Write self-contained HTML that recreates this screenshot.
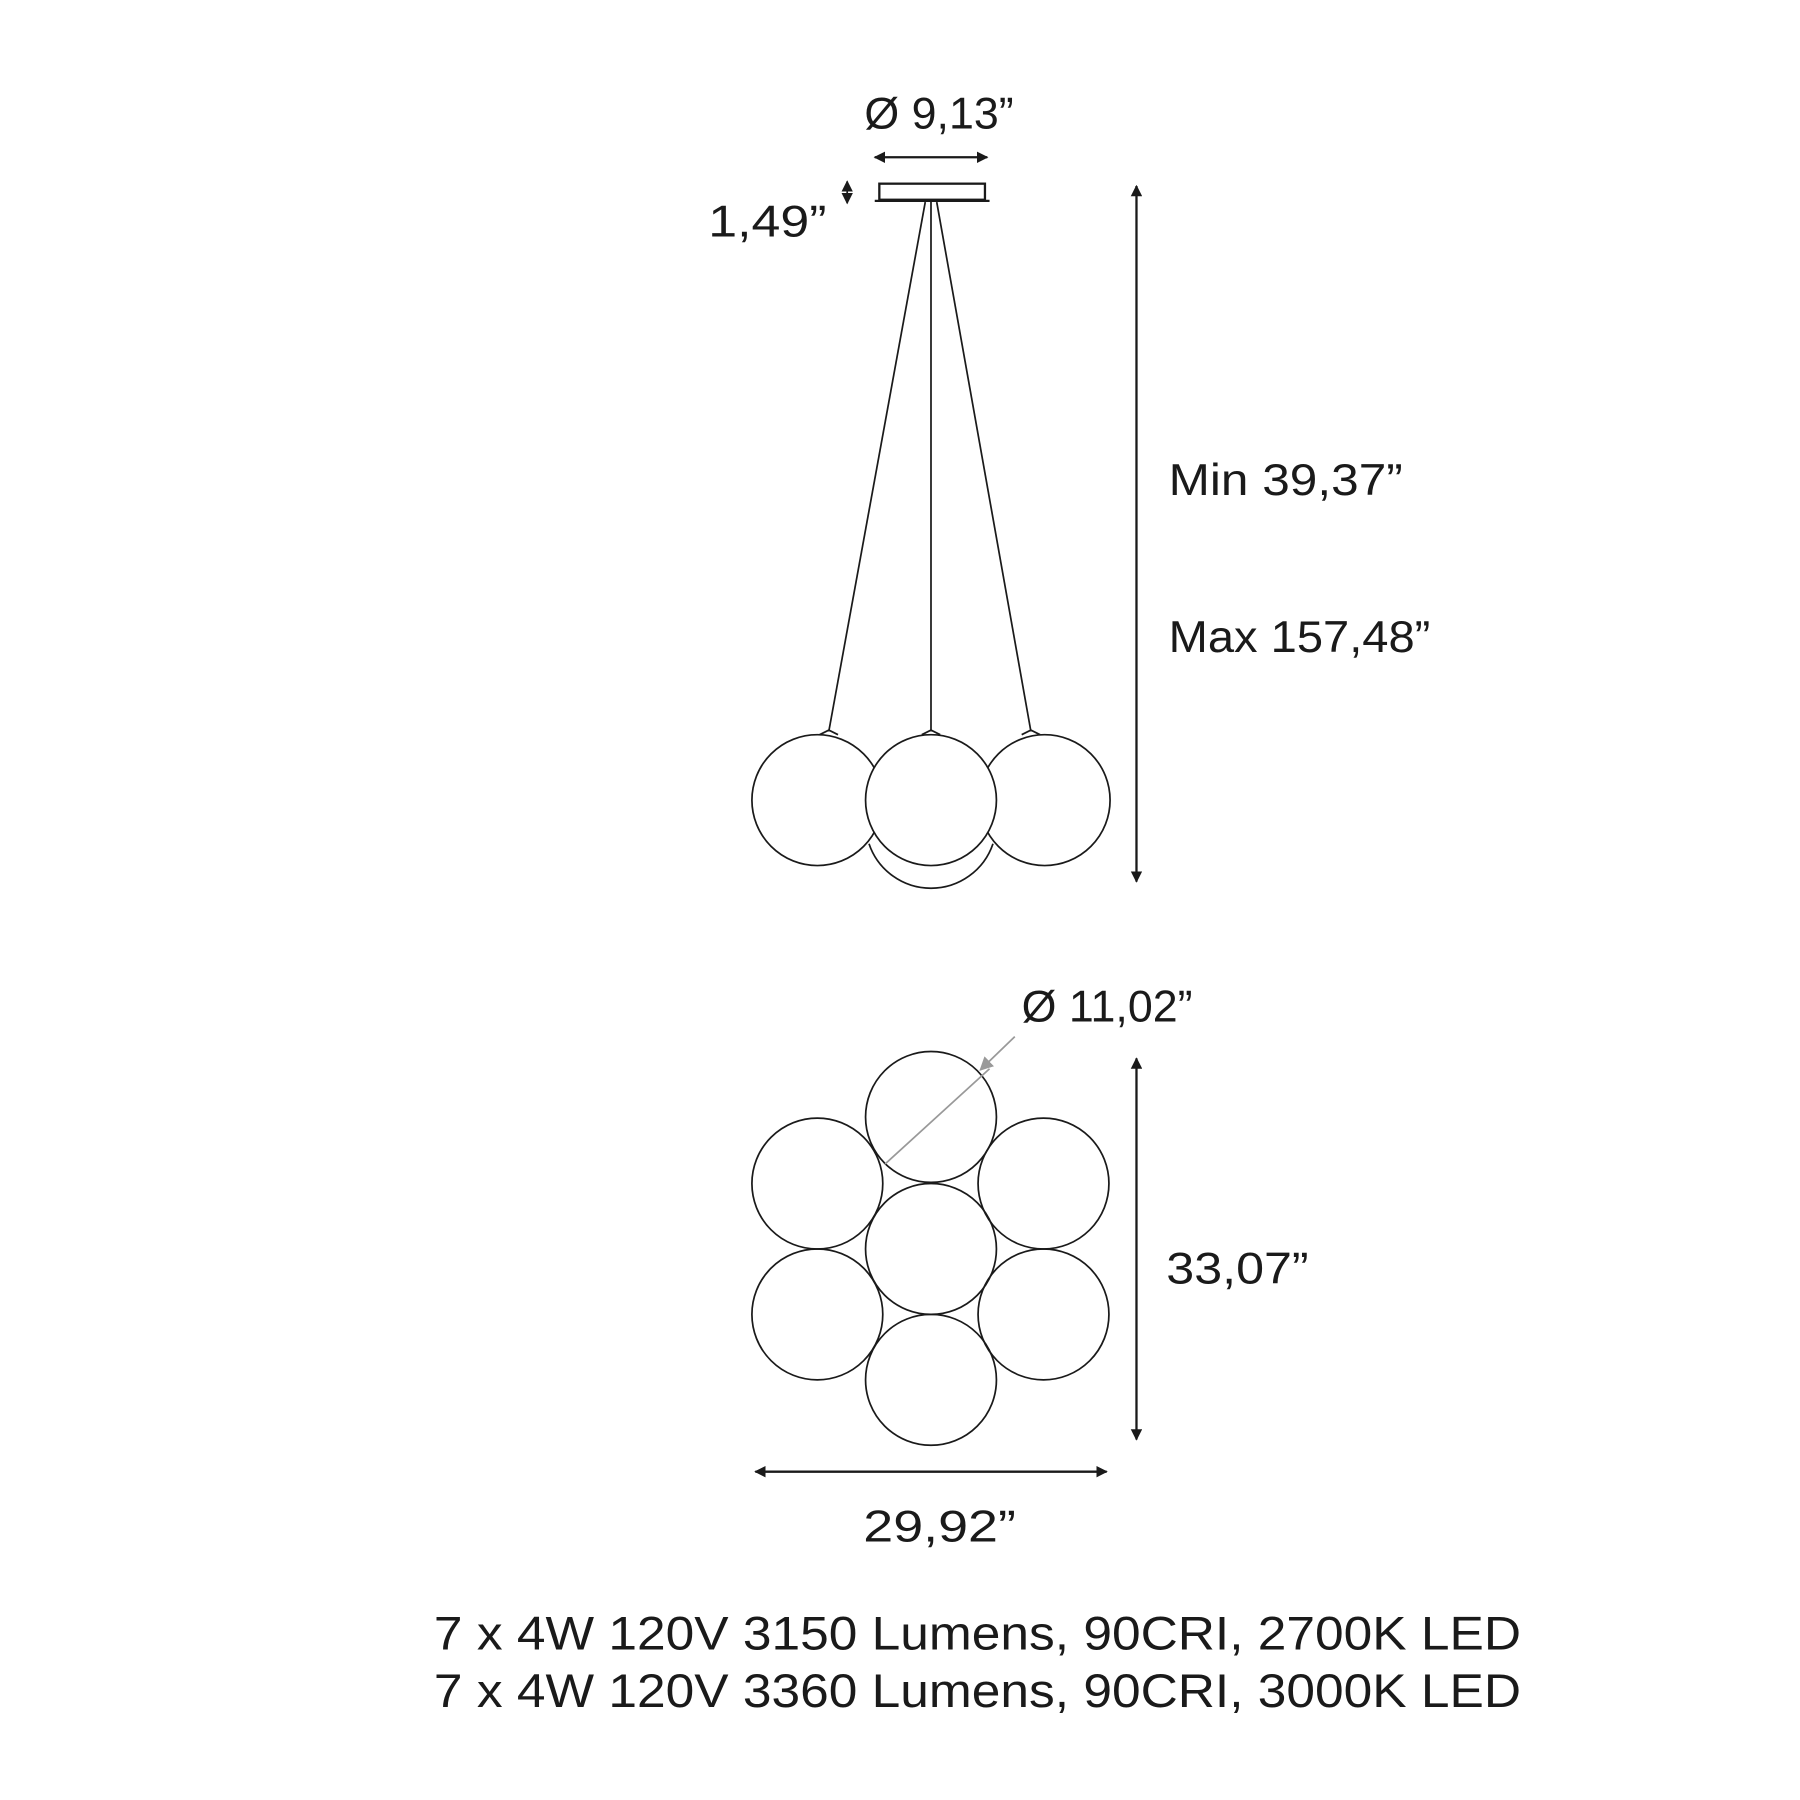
<!DOCTYPE html>
<html><head><style>html,body{margin:0;padding:0;background:#fff}svg{display:block}</style></head>
<body>
<svg width="1800" height="1800" viewBox="0 0 1568 1568" xmlns="http://www.w3.org/2000/svg" font-family="Liberation Sans, sans-serif" fill="none" stroke="#1a1a1a">
<defs>
<marker id="a" viewBox="0 0 10 10" refX="9" refY="5" markerWidth="10" markerHeight="10" markerUnits="userSpaceOnUse" orient="auto-start-reverse"><path d="M0,0 L10,5 L0,10 z" fill="#1a1a1a" stroke="none"/></marker>
<marker id="g" viewBox="0 0 10 10" refX="9" refY="5" markerWidth="12" markerHeight="12" markerUnits="userSpaceOnUse" orient="auto"><path d="M0,0 L10,5 L0,10 z" fill="#999" stroke="none"/></marker>
</defs>
<g fill="#1a1a1a" stroke="none" font-size="39">
<text x="818" y="112" text-anchor="middle">Ø 9,13”</text>
<text x="617" y="206" textLength="103" lengthAdjust="spacingAndGlyphs">1,49”</text>
<text x="1018" y="431" textLength="204" lengthAdjust="spacingAndGlyphs">Min 39,37”</text>
<text x="1018" y="568" textLength="228" lengthAdjust="spacingAndGlyphs">Max 157,48”</text>
<text x="890" y="890">Ø 11,02”</text>
<text x="1016" y="1118" textLength="124" lengthAdjust="spacingAndGlyphs">33,07”</text>
<text x="752" y="1343" textLength="133" lengthAdjust="spacingAndGlyphs">29,92”</text>
<text x="378" y="1437" font-size="41" textLength="947" lengthAdjust="spacingAndGlyphs">7 x 4W 120V 3150 Lumens, 90CRI, 2700K LED</text>
<text x="378" y="1487" font-size="41" textLength="947" lengthAdjust="spacingAndGlyphs">7 x 4W 120V 3360 Lumens, 90CRI, 3000K LED</text>
</g>
<g stroke-width="2">
<line x1="762" y1="137" x2="860" y2="137" marker-start="url(#a)" marker-end="url(#a)"/>
<line x1="738" y1="158" x2="738" y2="177" marker-start="url(#a)" marker-end="url(#a)" stroke-width="1.5"/>
<rect x="766" y="160" width="92" height="14"/>
<line x1="762" y1="175" x2="862" y2="175"/>
<line x1="990" y1="162" x2="990" y2="768" marker-start="url(#a)" marker-end="url(#a)"/>
<line x1="990" y1="922" x2="990" y2="1254" marker-start="url(#a)" marker-end="url(#a)"/>
<line x1="658" y1="1282" x2="964" y2="1282" marker-start="url(#a)" marker-end="url(#a)"/>
</g>
<g stroke-width="1.5">
<line x1="806" y1="176" x2="722" y2="637"/>
<line x1="811" y1="176" x2="811" y2="637"/>
<line x1="816" y1="176" x2="898" y2="637"/>
<path d="M757,735 A57,57 0 0 0 865,735"/>
<circle cx="712" cy="697" r="57" fill="#fff"/>
<circle cx="910" cy="697" r="57" fill="#fff"/>
<circle cx="811" cy="697" r="57" fill="#fff"/>
<path d="M714,640 l8,-4 l8,4 M803,640 l8,-4 l8,4 M890,640 l8,-4 l8,4"/>
<circle cx="811" cy="973" r="57"/>
<circle cx="712" cy="1031" r="57"/>
<circle cx="909" cy="1031" r="57"/>
<circle cx="811" cy="1088" r="57"/>
<circle cx="712" cy="1145" r="57"/>
<circle cx="909" cy="1145" r="57"/>
<circle cx="811" cy="1202" r="57"/>
</g>
<line x1="771" y1="1014" x2="862" y2="931" stroke="#999" stroke-width="1.5"/>
<line x1="884" y1="903" x2="854" y2="932" stroke="#999" stroke-width="1.5" marker-end="url(#g)"/>
</svg>
</body></html>
